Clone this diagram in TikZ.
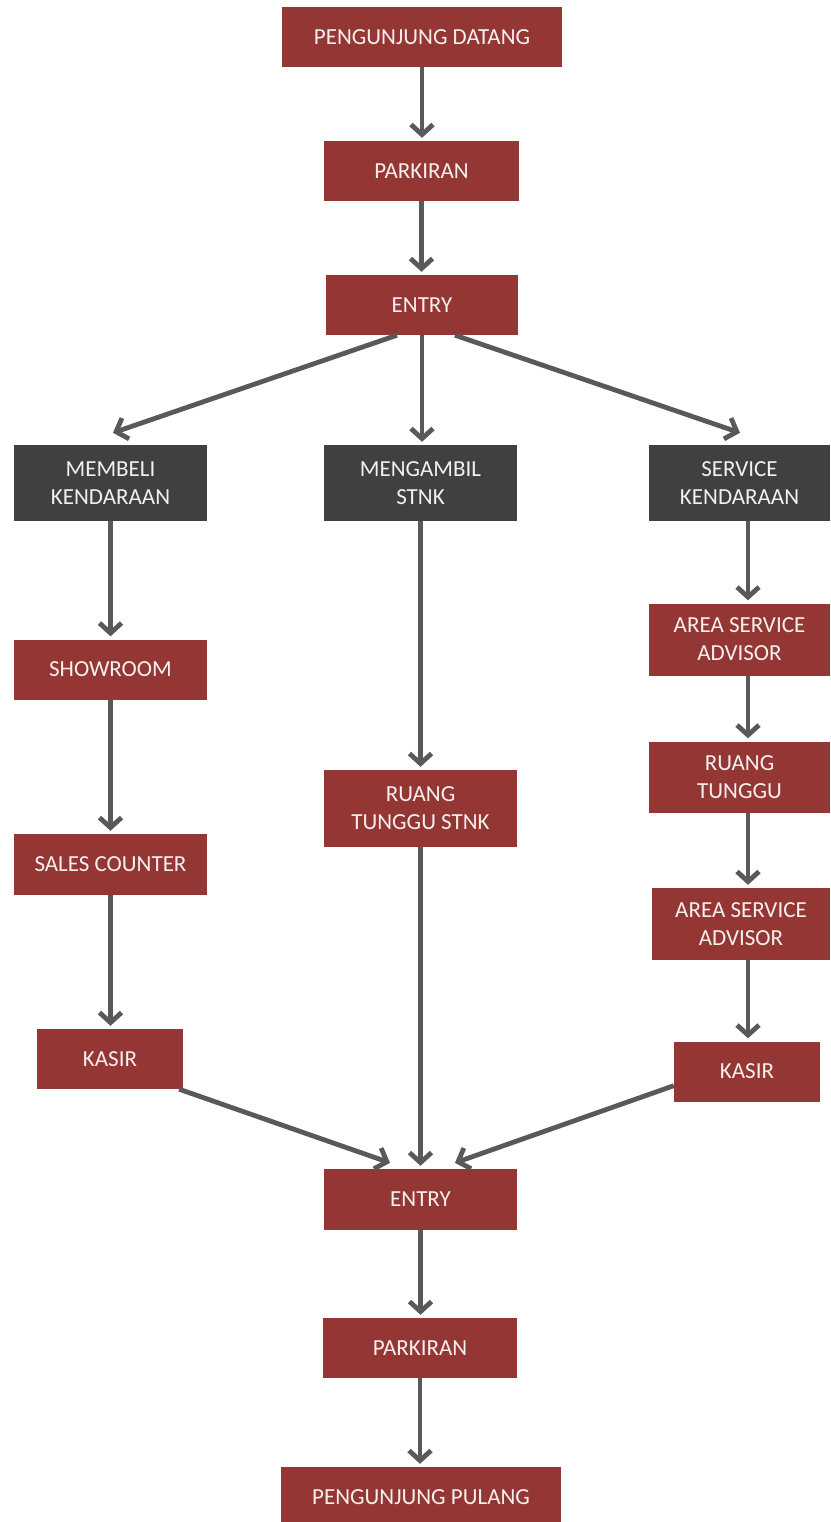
\documentclass[tikz,border=0pt]{standalone}
\usepackage{fontspec}
\setmainfont{Carlito}
\usetikzlibrary{arrows.meta}
\definecolor{boxred}{HTML}{943634}
\definecolor{boxdark}{HTML}{404040}
\definecolor{arrgray}{HTML}{595959}
\definecolor{txt}{HTML}{F4F0EE}
\tikzset{
  redbox/.style={fill=boxred, draw=none, text=txt, inner sep=0pt, align=center,
    font=\fontsize{23}{28}\selectfont},
  darkbox/.style={redbox, fill=boxdark},
  arr/.style={draw=arrgray, line width=4.8pt, -{Straight Barb[length=10pt,width=22pt]}},
}
\begin{document}
\begin{tikzpicture}[x=1pt,y=-1pt]
\clip (0,0) rectangle (830,1522);
\fill[white] (0,0) rectangle (830,1522);
% nodes
\node[redbox, minimum width=280pt, minimum height=60pt] (pd) at (422,37) {PENGUNJUNG DATANG};
\node[redbox, minimum width=195pt, minimum height=60pt] (pk1) at (421.5,171) {PARKIRAN};
\node[redbox, minimum width=192pt, minimum height=60pt] (en1) at (422,305) {ENTRY};
\node[darkbox, minimum width=193pt, minimum height=76pt] (mb) at (110.5,483) {MEMBELI\\KENDARAAN};
\node[darkbox, minimum width=193pt, minimum height=76pt] (ms) at (420.5,483) {MENGAMBIL\\STNK};
\node[darkbox, minimum width=181pt, minimum height=76pt] (sk) at (739.5,483) {SERVICE\\KENDARAAN};
\node[redbox, minimum width=193pt, minimum height=60pt] (sh) at (110.5,669.5) {SHOWROOM};
\node[redbox, minimum width=193pt, minimum height=61pt] (sc) at (110.5,864.5) {SALES COUNTER};
\node[redbox, minimum width=146pt, minimum height=60pt] (ks1) at (110,1059) {KASIR};
\node[redbox, minimum width=193pt, minimum height=77pt] (rts) at (420.5,808.5) {RUANG\\TUNGGU STNK};
\node[redbox, minimum width=181pt, minimum height=72pt] (asa1) at (739.5,639.5) {AREA SERVICE\\ADVISOR};
\node[redbox, minimum width=181pt, minimum height=71pt] (rt) at (739.5,777) {RUANG\\TUNGGU};
\node[redbox, minimum width=178pt, minimum height=72pt] (asa2) at (741,924) {AREA SERVICE\\ADVISOR};
\node[redbox, minimum width=146pt, minimum height=60pt] (ks2) at (747,1071.5) {KASIR};
\node[redbox, minimum width=193pt, minimum height=61pt] (en2) at (420.5,1199.5) {ENTRY};
\node[redbox, minimum width=194pt, minimum height=60pt] (pk2) at (420,1348) {PARKIRAN};
\node[redbox, minimum width=280pt, minimum height=60pt] (pp) at (421,1497) {PENGUNJUNG PULANG};
% connectors
\draw[arr] (pd.south) -- ([yshift=3pt]pd.south |- pk1.north);
\draw[arr] (pk1.south) -- ([yshift=3pt]pk1.south |- en1.north);
\draw[arr] ([xshift=-25pt]en1.south) -- ([xshift=2.5pt,yshift=12pt]mb.north);
\draw[arr] (en1.south) -- ([yshift=3pt]en1.south |- ms.north);
\draw[arr] ([xshift=33pt]en1.south) -- ([xshift=0.5pt,yshift=12pt]sk.north);
\draw[arr] (mb.south) -- ([yshift=3pt]sh.north);
\draw[arr] (sh.south) -- ([yshift=3pt]sc.north);
\draw[arr] (sc.south) -- ([yshift=3pt]sc.south |- ks1.north);
\draw[arr] (ms.south) -- ([yshift=3pt]rts.north);
\draw[arr] ([xshift=8.5pt]sk.south) -- ([xshift=8.5pt,yshift=3pt]asa1.north);
\draw[arr] ([xshift=8.5pt]asa1.south) -- ([xshift=8.5pt,yshift=3pt]rt.north);
\draw[arr] ([xshift=8.5pt]rt.south) -- ([xshift=7pt,yshift=3pt]asa2.north);
\draw[arr] ([xshift=7pt]asa2.south) -- ([xshift=1pt,yshift=3pt]ks2.north);
\draw[arr] ([xshift=-4pt]ks1.south east) -- ([xshift=-30.5pt,yshift=6pt]en2.north);
\draw[arr] (rts.south) -- ([yshift=3pt]rts.south |- en2.north);
\draw[arr] ([yshift=16pt]ks2.south west) -- ([xshift=34.5pt,yshift=6pt]en2.north);
\draw[arr] (en2.south) -- ([yshift=3pt]en2.south |- pk2.north);
\draw[arr] (pk2.south) -- ([yshift=3pt]pk2.south |- pp.north);
\end{tikzpicture}
\end{document}
